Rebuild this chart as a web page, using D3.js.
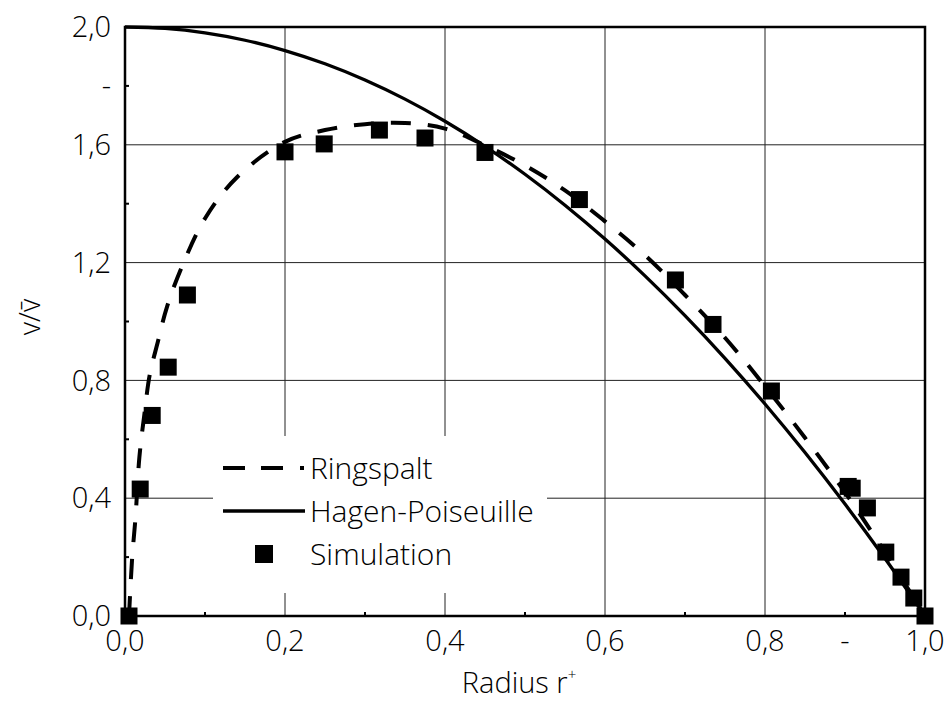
<!DOCTYPE html>
<html>
<head>
<meta charset="utf-8">
<script src="https://cdn.jsdelivr.net/npm/d3@7"></script>
<style>
  body { margin: 0; background: #fff; }
  svg text { font-family: "Open Sans", "DejaVu Sans", sans-serif; font-weight: 300; fill: #000; }
</style>
</head>
<body>
<svg class="chartSVG" width="945" height="702"></svg>
<script>
// Hagen-Poiseuille profile
const hpR = [0, 0.05, 0.1, 0.15, 0.2, 0.25, 0.3, 0.35, 0.4, 0.45, 0.5, 0.55, 0.6, 0.65, 0.7, 0.75, 0.8, 0.85, 0.9, 0.95, 1.0]
const hpV = [2.0, 1.995, 1.98, 1.955, 1.92, 1.875, 1.82, 1.755, 1.68, 1.595, 1.5, 1.395, 1.28, 1.155, 1.02, 0.875, 0.72, 0.555, 0.38, 0.195, 0]

// Ringspalt profile
const rsR = [0.005, 0.009, 0.013, 0.018, 0.024, 0.031, 0.041, 0.0525, 0.071, 0.1, 0.14, 0.2, 0.25, 0.3, 0.35, 0.4, 0.45, 0.5, 0.55, 0.6, 0.65, 0.7, 0.75, 0.8, 0.85, 0.9, 0.95, 1.0]
const rsV = [0, 0.2, 0.33, 0.54, 0.68, 0.82, 0.93, 1.05, 1.185, 1.35, 1.49, 1.61, 1.65, 1.67, 1.674, 1.655, 1.598, 1.53, 1.445, 1.34, 1.225, 1.09, 0.945, 0.78, 0.605, 0.42, 0.216, 0]

// Simulation points
const simR = [0.005, 0.019, 0.034, 0.054, 0.078, 0.2, 0.249, 0.318, 0.375, 0.45, 0.568, 0.688, 0.735, 0.808, 0.904, 0.909, 0.928, 0.951, 0.97, 0.986, 1.0]
const simV = [0, 0.431, 0.681, 0.845, 1.09, 1.576, 1.603, 1.65, 1.623, 1.574, 1.414, 1.141, 0.99, 0.764, 0.44, 0.434, 0.367, 0.217, 0.132, 0.061, 0]

// ticks and labels
const xTicks = [0, 0.2, 0.4, 0.6, 0.8, 0.9, 1.0]
const xTickLabels = ["0,0", "0,2", "0,4", "0,6", "0,8", "-", "1,0"]
const yTicks = [0, 0.4, 0.8, 1.2, 1.6, 1.8, 2.0]
const yTickLabels = ["0,0", "0,4", "0,8", "1,2", "1,6", "-", "2,0"]
const xGrid = [0.2, 0.4, 0.6, 0.8]
const yGrid = [0.4, 0.8, 1.2, 1.6]
const xMinor = [0.1, 0.3, 0.5, 0.7, 0.9]
const yMinor = [0.2, 0.6, 1.0, 1.4, 1.8]

const legendNames = ["Ringspalt", "Hagen-Poiseuille", "Simulation"]

const svg = d3.select(".chartSVG")
const margin = { left: 125, top: 27, right: 20, bottom: 86 }
const width = 945 - margin.left - margin.right
const height = 702 - margin.top - margin.bottom

const x = d3.scaleLinear().domain([0, 1]).range([margin.left, margin.left + width])
const y = d3.scaleLinear().domain([0, 2]).range([margin.top + height, margin.top])

const fontSize = 29

// grid
const grid = svg.append("g").attr("class", "grid").attr("stroke", "#222").attr("stroke-width", 1)
grid.selectAll(".gx").data(xGrid).join("line")
  .attr("x1", d => x(d)).attr("x2", d => x(d))
  .attr("y1", y(0)).attr("y2", y(2))
grid.selectAll(".gy").data(yGrid).join("line")
  .attr("y1", d => y(d)).attr("y2", d => y(d))
  .attr("x1", x(0)).attr("x2", x(1))

// curves
const line = d3.line().x(d => x(d[0])).y(d => y(d[1])).curve(d3.curveMonotoneX)

svg.append("path")
  .datum(hpR.map((r, i) => [r, hpV[i]]))
  .attr("d", line)
  .attr("fill", "none")
  .attr("stroke", "#000")
  .attr("stroke-width", 3.3)

svg.append("path")
  .datum(rsR.map((r, i) => [r, rsV[i]]))
  .attr("d", d3.line().x(d => x(d[0])).y(d => y(d[1])).curve(d3.curveCatmullRom))
  .attr("fill", "none")
  .attr("stroke", "#000")
  .attr("stroke-width", 4)
  .attr("stroke-dasharray", "20,17")

// simulation squares
const sq = 17
svg.append("g").selectAll("rect")
  .data(simR.map((r, i) => [r, simV[i]]))
  .join("rect")
  .attr("x", d => x(d[0]) - sq / 2)
  .attr("y", d => y(d[1]) - sq / 2)
  .attr("width", sq)
  .attr("height", sq)
  .attr("fill", "#000")

// legend
const lg = svg.append("g").attr("class", "legend")
lg.append("rect")
  .attr("x", 213).attr("y", 436).attr("width", 334).attr("height", 157)
  .attr("fill", "#fff")
const rowY = [468, 511, 554]
lg.append("line")
  .attr("x1", 223).attr("x2", 305).attr("y1", rowY[0]).attr("y2", rowY[0])
  .attr("stroke", "#000").attr("stroke-width", 4).attr("stroke-dasharray", "22,16,22,17,4")
lg.append("line")
  .attr("x1", 223).attr("x2", 305).attr("y1", rowY[1]).attr("y2", rowY[1])
  .attr("stroke", "#000").attr("stroke-width", 3.3)
lg.append("rect")
  .attr("x", 255).attr("y", rowY[2] - 9).attr("width", 18).attr("height", 18)
  .attr("fill", "#000")
lg.selectAll("text").data(legendNames).join("text")
  .attr("x", 310)
  .attr("y", (d, i) => rowY[i])
  .attr("dy", "0.35em")
  .attr("font-size", 30)
  .text(d => d)

// minor ticks
const tk = svg.append("g").attr("stroke", "#000").attr("stroke-width", 2)
tk.selectAll(".mx").data(xMinor).join("line")
  .attr("x1", d => x(d)).attr("x2", d => x(d))
  .attr("y1", y(0)).attr("y2", y(0) - 4)
tk.selectAll(".my").data(yMinor).join("line")
  .attr("y1", d => y(d)).attr("y2", d => y(d))
  .attr("x1", x(0)).attr("x2", x(0) + 4)

// frame
svg.append("rect")
  .attr("x", x(0)).attr("y", y(2))
  .attr("width", x(1) - x(0)).attr("height", y(0) - y(2))
  .attr("fill", "none").attr("stroke", "#000").attr("stroke-width", 2.5)

// tick labels
svg.append("g").selectAll("text").data(xTicks).join("text")
  .attr("x", d => x(d))
  .attr("y", y(0) + 35)
  .attr("text-anchor", "middle")
  .attr("font-size", fontSize)
  .text((d, i) => xTickLabels[i])

svg.append("g").selectAll("text").data(yTicks).join("text")
  .attr("x", x(0) - 14)
  .attr("y", d => y(d))
  .attr("dy", "0.35em")
  .attr("text-anchor", "end")
  .attr("font-size", fontSize)
  .text((d, i) => yTickLabels[i])

// axis titles
const xt = svg.append("text")
  .attr("x", 519)
  .attr("y", 693)
  .attr("text-anchor", "middle")
  .attr("font-size", fontSize)
xt.append("tspan").text("Radius r")
xt.append("tspan").attr("dy", -13).attr("font-size", 15).text("+")

svg.append("text")
  .attr("transform", "translate(40,317) rotate(-90)")
  .attr("text-anchor", "middle")
  .attr("font-size", fontSize)
  .text("v/v\u0304")
</script>
</body>
</html>
